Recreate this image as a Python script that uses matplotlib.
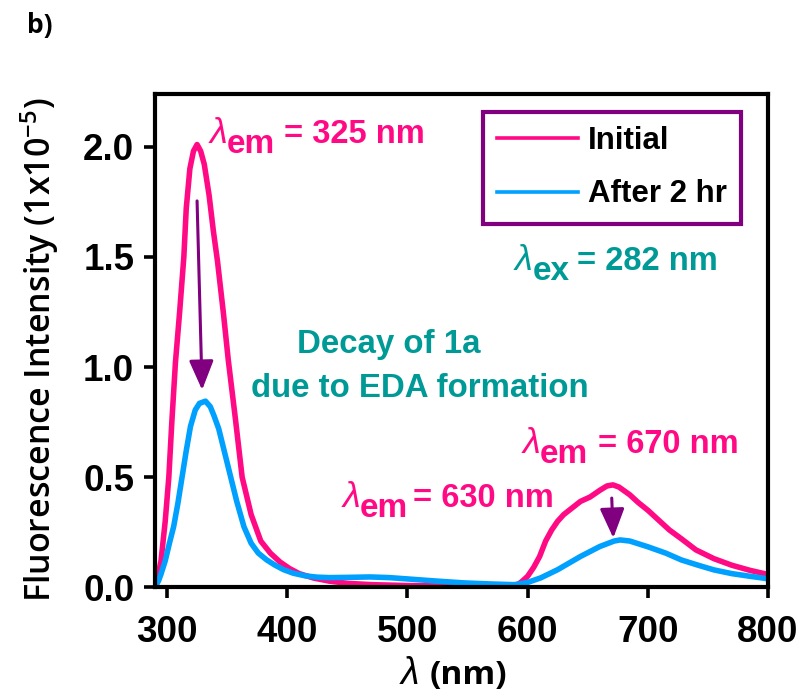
import matplotlib
matplotlib.use('Agg')
import matplotlib.pyplot as plt
from matplotlib.lines import Line2D

# emission spectra (intensity in units of 1e5)
wl_init = [290, 292, 295, 298.5, 301.5, 304, 307, 310.5, 314, 316,
           319, 322, 325, 328, 331, 335, 338.5, 342, 347, 351,
           357, 362.5, 370, 378, 386, 394, 402, 410, 422, 435,
           450, 470, 500, 530, 560, 590, 595, 600, 605, 610,
           615, 620, 625, 630, 637, 644, 652, 660, 666, 671,
           676, 685, 692, 700, 710, 718, 728, 740, 755, 770,
           785, 797, 800]
int_init = [0.0, 0.04, 0.12, 0.30, 0.50, 0.75, 1.02, 1.25, 1.50, 1.72,
            1.90, 1.98, 2.01, 1.98, 1.92, 1.78, 1.62, 1.48, 1.24, 1.03,
            0.76, 0.50, 0.33, 0.21, 0.155, 0.115, 0.085, 0.062, 0.042, 0.028,
            0.018, 0.012, 0.008, 0.006, 0.005, 0.006, 0.025, 0.05, 0.09, 0.14,
            0.21, 0.26, 0.30, 0.33, 0.36, 0.39, 0.41, 0.44, 0.46, 0.465,
            0.455, 0.42, 0.385, 0.35, 0.30, 0.26, 0.22, 0.17, 0.13, 0.10,
            0.077, 0.062, 0.055]

wl_2hr = [290, 293, 295, 298.5, 302, 305.5, 309, 312.5, 316, 319.5,
          323.5, 327, 332, 336, 339, 343, 348, 353, 358, 364,
          370, 376, 383, 390, 397, 405, 415, 425, 435, 450,
          469, 485, 505, 525, 547, 570, 589, 600, 611, 625,
          644, 660, 672, 677, 685, 700, 715, 728, 742, 755,
          770, 785, 797, 800]
int_2hr = [0.0, 0.03, 0.06, 0.12, 0.20, 0.275, 0.38, 0.50, 0.62, 0.73,
           0.805, 0.835, 0.845, 0.82, 0.78, 0.72, 0.61, 0.50, 0.39, 0.275,
           0.20, 0.155, 0.124, 0.10, 0.08, 0.064, 0.052, 0.046, 0.044, 0.045,
           0.047, 0.044, 0.036, 0.028, 0.02, 0.015, 0.012, 0.022, 0.043, 0.08,
           0.14, 0.185, 0.21, 0.215, 0.21, 0.184, 0.155, 0.124, 0.10, 0.079,
           0.062, 0.05, 0.041, 0.038]

labels = ['Initial', 'After 2 hr']
xticks = [300, 400, 500, 600, 700, 800]
yticks = [0.0, 0.5, 1.0, 1.5, 2.0]

PINK = '#ff0a84'
BLUE = '#00a0ff'
TEAL = '#009a96'
PURPLE = '#800080'

W, H = 805, 696

plt.rcParams['font.family'] = ['Liberation Sans', 'DejaVu Sans']
plt.rcParams['font.weight'] = 'bold'
plt.rcParams['mathtext.fontset'] = 'custom'
plt.rcParams['mathtext.rm'] = 'Open Sans:semibold'
plt.rcParams['mathtext.bf'] = 'Open Sans:bold'

fig = plt.figure(figsize=(W / 100, H / 100), dpi=100)
ax = fig.add_axes([155 / W, 1 - 587.3 / H, (768 - 155) / W, (587.3 - 94.3) / H])

ax.plot(wl_init, int_init, color=PINK, lw=4, solid_joinstyle='round', solid_capstyle='round')
ax.plot(wl_2hr, int_2hr, color=BLUE, lw=4, solid_joinstyle='round', solid_capstyle='round')

ax.set_xlim(290, 800)
ax.set_ylim(0, 2.238)
ax.set_xticks(xticks)
ax.set_yticks(yticks)
ax.set_yticklabels(['%.1f' % v for v in yticks])
for s in ax.spines.values():
    s.set_linewidth(3)
ax.tick_params(axis='both', direction='out', length=8, width=2.6, labelsize=26.5)
ax.tick_params(axis='x', pad=12)
ax.tick_params(axis='y', pad=7)

# legend
handles = [Line2D([], [], color=PINK, lw=2.6), Line2D([], [], color=BLUE, lw=2.6)]
leg = ax.legend(handles, labels, loc='upper left', bbox_to_anchor=(483 / W, 1 - 112 / H),
                bbox_transform=fig.transFigure, borderaxespad=0, fancybox=False,
                framealpha=1, edgecolor=PURPLE, prop={'size': 22.5, 'weight': 'bold'},
                handlelength=2.6, handletextpad=0.3, labelspacing=0.75, borderpad=0.45)
leg.get_frame().set_linewidth(3)

# arrows
arrow = dict(arrowstyle='-|>,head_length=0.6,head_width=0.25', color=PURPLE,
             lw=2.2, mutation_scale=30, shrinkA=0, shrinkB=0)
ax.annotate('', xy=(329.2, 0.896), xytext=(325, 1.754), arrowprops=arrow)
ax.annotate('', xy=(671.3, 0.224), xytext=(670, 0.405), arrowprops=arrow)


def lam_label(x, y, sub, rest, color, dsub=17, drest=72):
    # lambda with subscript, positions in figure pixels (baseline)
    fig.text(x / W, 1 - y / H, 'λ', color=color, fontsize=26, fontstyle='italic',
             fontweight='normal', va='baseline')
    fig.text((x + dsub) / W, 1 - (y + 10) / H, sub, color=color, fontsize=24, va='baseline')
    fig.text((x + drest) / W, 1 - y / H, rest, color=color, fontsize=23.5, va='baseline')


lam_label(210, 143, 'em', '= 325 nm', PINK, drest=74)
lam_label(343, 507, 'em', '= 630 nm', PINK, drest=70)
lam_label(523, 453, 'em', '= 670 nm', PINK, drest=75)
lam_label(515, 270, 'ex', '= 282 nm', TEAL, dsub=18, drest=62)

fig.text(389 / W, 1 - 353 / H, 'Decay of 1a', color=TEAL, fontsize=23.8,
         ha='center', va='baseline')
fig.text(420 / W, 1 - 397 / H, 'due to EDA formation', color=TEAL, fontsize=23.8,
         ha='center', va='baseline')

fig.text(40 / W, 1 - 25 / H, 'b)', fontsize=19, fontweight='bold',
         family=['Open Sans', 'DejaVu Sans'], ha='center', va='center')

fig.text(40 / W, 1 - 350 / H, r'Fluorescence Intensity (1x10$^{\mathrm{-5}}$)',
         rotation=90, fontsize=24.5, fontweight='semibold',
         family=['Open Sans', 'DejaVu Sans'], ha='center', va='center')

fig.text(410 / W, 1 - 684 / H, 'λ', fontsize=27, fontstyle='italic', fontweight='normal',
         ha='center', va='baseline')
fig.text(430 / W, 1 - 684 / H, '(nm)', fontsize=24, fontweight='bold',
         family=['Open Sans', 'DejaVu Sans'], ha='left', va='baseline')

fig.savefig('out.png', dpi=100)
